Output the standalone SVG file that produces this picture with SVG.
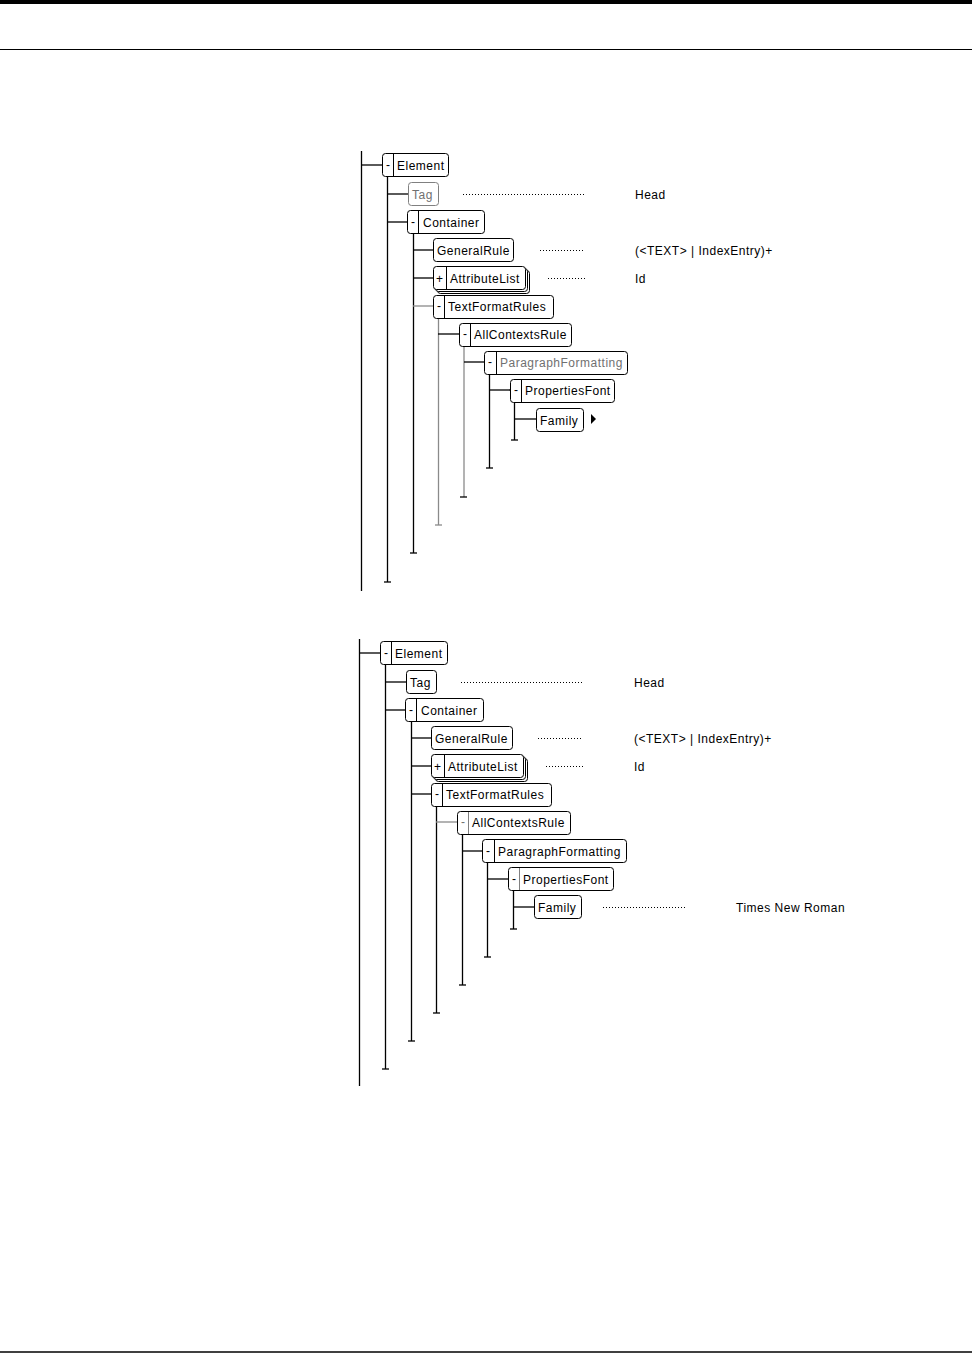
<svg xmlns="http://www.w3.org/2000/svg" width="972" height="1353" viewBox="0 0 972 1353">
<style>
.bx{fill:#fff;stroke:#000;stroke-width:1}
.bxg{fill:#fff;stroke:#808080;stroke-width:1}
.dv{stroke:#000;stroke-width:1}
.dvg{stroke:#808080;stroke-width:1}
.t{font-family:"Liberation Sans",Arial,sans-serif;font-size:12px;letter-spacing:0.5px;fill:#000}
.tg{fill:#707070}
.ln{stroke:#000;stroke-width:1.3;fill:none}
.lg{stroke:#8a8a8a;stroke-width:1.3;fill:none}
.dot{stroke:#000;stroke-width:1;stroke-dasharray:1 2;fill:none}
</style>
<rect x="0" y="0" width="972" height="4" fill="#000"/>
<line x1="0" y1="49.5" x2="972" y2="49.5" stroke="#000" stroke-width="1"/>
<line x1="0" y1="1352" x2="972" y2="1352" stroke="#000" stroke-width="1.5"/>

<!-- TOP DIAGRAM -->
<g id="top-connectors">
<line class="ln" x1="361.5" y1="151" x2="361.5" y2="591"/>
<line class="ln" x1="361" y1="165" x2="382" y2="165"/>
<line class="ln" x1="387.5" y1="176" x2="387.5" y2="582"/>
<line class="ln" x1="384" y1="582" x2="391" y2="582"/>
<line class="ln" x1="387" y1="194" x2="408" y2="194"/>
<line class="ln" x1="387" y1="222" x2="407" y2="222"/>
<line class="ln" x1="413.5" y1="233" x2="413.5" y2="553"/>
<line class="ln" x1="410" y1="553" x2="417" y2="553"/>
<line class="ln" x1="413" y1="250" x2="433" y2="250"/>
<line class="ln" x1="413" y1="278" x2="433" y2="278"/>
<line class="lg" x1="413" y1="306" x2="433" y2="306"/>
<line class="lg" x1="438.5" y1="318" x2="438.5" y2="525"/>
<line class="lg" x1="435" y1="525" x2="442" y2="525"/>
<line class="ln" x1="438" y1="334" x2="459" y2="334"/>
<line class="lg" x1="464" y1="346" x2="464" y2="497"/>
<line class="ln" x1="460" y1="497" x2="467" y2="497"/>
<line class="ln" x1="464" y1="362" x2="484" y2="362"/>
<line class="ln" x1="489.5" y1="374" x2="489.5" y2="468"/>
<line class="ln" x1="486" y1="468" x2="493" y2="468"/>
<line class="ln" x1="489" y1="390" x2="510" y2="390"/>
<line class="ln" x1="514.5" y1="402" x2="514.5" y2="440"/>
<line class="ln" x1="511" y1="440" x2="518" y2="440"/>
<line class="ln" x1="514" y1="419" x2="536" y2="419"/>
<line class="dot" x1="463" y1="194.5" x2="585" y2="194.5"/>
<line class="dot" x1="540" y1="250.5" x2="585" y2="250.5"/>
<line class="dot" x1="548" y1="278.5" x2="585" y2="278.5"/>
<polygon points="591,414 596,419 591,424" fill="#000"/>
</g>
<g id="top-element"><rect class="bx" x="382.5" y="153.5" width="66" height="23" rx="3"/><line class="dv" x1="393.5" y1="154" x2="393.5" y2="176"/><text class="t" x="386" y="169">-</text><text class="t" x="397" y="170">Element</text></g>
<g id="top-tag"><rect class="bxg" x="408.5" y="182.5" width="30" height="23" rx="3"/><text class="t tg" x="412" y="199">Tag</text></g>
<g id="top-container"><rect class="bx" x="407.5" y="210.5" width="77" height="23" rx="3"/><line class="dv" x1="418.5" y1="211" x2="418.5" y2="233"/><text class="t" x="411" y="226">-</text><text class="t" x="423" y="227">Container</text></g>
<g id="top-generalrule"><rect class="bx" x="433.5" y="238.5" width="80" height="23" rx="3"/><text class="t" x="437" y="255">GeneralRule</text></g>
<g id="top-attributelist"><rect class="bx" x="437.5" y="270.5" width="92" height="23" rx="3"/><rect class="bx" x="435.5" y="268.5" width="92" height="23" rx="3"/><rect class="bx" x="433.5" y="266.5" width="92" height="23" rx="3"/><line class="dv" x1="446.5" y1="267" x2="446.5" y2="289"/><text class="t" x="436" y="283">+</text><text class="t" x="450" y="283" letter-spacing="0">AttributeList</text></g>
<g id="top-textformatrules"><rect class="bx" x="433.5" y="295.5" width="120" height="23" rx="3"/><line class="dv" x1="444.5" y1="296" x2="444.5" y2="318"/><text class="t" x="437" y="310">-</text><text class="t" x="448" y="311">TextFormatRules</text></g>
<g id="top-allcontextsrule"><rect class="bx" x="459.5" y="323.5" width="112" height="23" rx="3"/><line class="dv" x1="470.5" y1="324" x2="470.5" y2="346"/><text class="t" x="463" y="338">-</text><text class="t" x="474" y="339" letter-spacing="0.2">AllContextsRule</text></g>
<g id="top-paragraphformatting"><rect class="bx" x="484.5" y="351.5" width="143" height="23" rx="3"/><line class="dv" x1="496.5" y1="352" x2="496.5" y2="374"/><text class="t" x="488" y="366">-</text><text class="t tg" x="500" y="367">ParagraphFormatting</text></g>
<g id="top-propertiesfont"><rect class="bx" x="510.5" y="379.5" width="104" height="23" rx="3"/><line class="dv" x1="521.5" y1="380" x2="521.5" y2="402"/><text class="t" x="514" y="394">-</text><text class="t" x="525" y="395">PropertiesFont</text></g>
<g id="top-family"><rect class="bx" x="536.5" y="408.5" width="47" height="23" rx="3"/><text class="t" x="540" y="425">Family</text></g>
<g id="top-values">
<text class="t" x="635" y="199">Head</text>
<text class="t" x="635" y="255">(&lt;TEXT&gt; | IndexEntry)+</text>
<text class="t" x="635" y="283">Id</text>
</g>

<!-- BOTTOM DIAGRAM -->
<g id="bottom-connectors">
<line class="ln" x1="359.5" y1="639" x2="359.5" y2="1086"/>
<line class="ln" x1="359" y1="653" x2="380" y2="653"/>
<line class="ln" x1="385.5" y1="664" x2="385.5" y2="1069"/>
<line class="ln" x1="382" y1="1069" x2="389" y2="1069"/>
<line class="ln" x1="385" y1="682" x2="406" y2="682"/>
<line class="ln" x1="385" y1="710" x2="405" y2="710"/>
<line class="ln" x1="411.5" y1="721" x2="411.5" y2="1041"/>
<line class="ln" x1="408" y1="1041" x2="415" y2="1041"/>
<line class="ln" x1="411" y1="738" x2="431" y2="738"/>
<line class="ln" x1="411" y1="766" x2="431" y2="766"/>
<line class="ln" x1="411" y1="794" x2="431" y2="794"/>
<line class="ln" x1="436.5" y1="806" x2="436.5" y2="1013"/>
<line class="ln" x1="433" y1="1013" x2="440" y2="1013"/>
<line class="lg" x1="436" y1="822" x2="457" y2="822"/>
<line class="ln" x1="462.5" y1="834" x2="462.5" y2="985"/>
<line class="ln" x1="459" y1="985" x2="466" y2="985"/>
<line class="ln" x1="462" y1="851" x2="482" y2="851"/>
<line class="ln" x1="487.5" y1="862" x2="487.5" y2="957"/>
<line class="ln" x1="484" y1="957" x2="491" y2="957"/>
<line class="ln" x1="487" y1="879" x2="508" y2="879"/>
<line class="ln" x1="513.5" y1="890" x2="513.5" y2="929"/>
<line class="ln" x1="510" y1="929" x2="517" y2="929"/>
<line class="ln" x1="513" y1="907" x2="534" y2="907"/>
<line class="dot" x1="461" y1="682.5" x2="583" y2="682.5"/>
<line class="dot" x1="538" y1="738.5" x2="583" y2="738.5"/>
<line class="dot" x1="546" y1="766.5" x2="583" y2="766.5"/>
<line class="dot" x1="603" y1="907.5" x2="687" y2="907.5"/>
</g>
<g id="bottom-element"><rect class="bx" x="380.5" y="641.5" width="67" height="23" rx="3"/><line class="dv" x1="391.5" y1="642" x2="391.5" y2="664"/><text class="t" x="384" y="657">-</text><text class="t" x="395" y="658">Element</text></g>
<g id="bottom-tag"><rect class="bx" x="406.5" y="670.5" width="30" height="23" rx="3"/><text class="t" x="410" y="687">Tag</text></g>
<g id="bottom-container"><rect class="bx" x="405.5" y="698.5" width="78" height="23" rx="3"/><line class="dv" x1="416.5" y1="699" x2="416.5" y2="721"/><text class="t" x="409" y="714">-</text><text class="t" x="421" y="715">Container</text></g>
<g id="bottom-generalrule"><rect class="bx" x="431.5" y="726.5" width="81" height="23" rx="3"/><text class="t" x="435" y="743">GeneralRule</text></g>
<g id="bottom-attributelist"><rect class="bx" x="435.5" y="758.5" width="92" height="23" rx="3"/><rect class="bx" x="433.5" y="756.5" width="92" height="23" rx="3"/><rect class="bx" x="431.5" y="754.5" width="92" height="23" rx="3"/><line class="dv" x1="444.5" y1="755" x2="444.5" y2="777"/><text class="t" x="434" y="771">+</text><text class="t" x="448" y="771" letter-spacing="0">AttributeList</text></g>
<g id="bottom-textformatrules"><rect class="bx" x="431.5" y="783.5" width="120" height="23" rx="3"/><line class="dv" x1="442.5" y1="784" x2="442.5" y2="806"/><text class="t" x="435" y="798">-</text><text class="t" x="446" y="799">TextFormatRules</text></g>
<g id="bottom-allcontextsrule"><rect class="bx" x="457.5" y="811.5" width="113" height="23" rx="3"/><line class="dvg" x1="468.5" y1="812" x2="468.5" y2="834"/><text class="t tg" x="461" y="826">-</text><text class="t" x="472" y="827" letter-spacing="0.2">AllContextsRule</text></g>
<g id="bottom-paragraphformatting"><rect class="bx" x="482.5" y="839.5" width="144" height="23" rx="3"/><line class="dv" x1="494.5" y1="840" x2="494.5" y2="862"/><text class="t" x="486" y="855">-</text><text class="t" x="498" y="856">ParagraphFormatting</text></g>
<g id="bottom-propertiesfont"><rect class="bx" x="508.5" y="867.5" width="105" height="23" rx="3"/><line class="dvg" x1="519.5" y1="868" x2="519.5" y2="890"/><text class="t" x="512" y="883">-</text><text class="t" x="523" y="884">PropertiesFont</text></g>
<g id="bottom-family"><rect class="bx" x="534.5" y="895.5" width="47" height="23" rx="3"/><text class="t" x="538" y="912">Family</text></g>
<g id="bottom-values">
<text class="t" x="634" y="687">Head</text>
<text class="t" x="634" y="743">(&lt;TEXT&gt; | IndexEntry)+</text>
<text class="t" x="634" y="771">Id</text>
<text class="t" x="736" y="912">Times New Roman</text>
</g>
</svg>
